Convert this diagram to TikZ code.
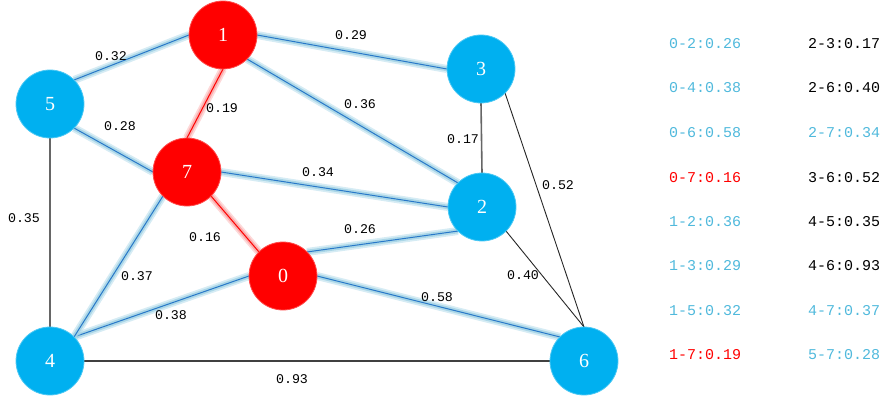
\documentclass[tikz,border=0pt]{standalone}
\usepackage{fontspec}
\setmainfont{Liberation Serif}
\newfontfamily\monofont{Liberation Mono}
\usetikzlibrary{backgrounds}
\definecolor{nodeblue}{RGB}{0,176,240}
\definecolor{nodered}{RGB}{255,0,0}
\definecolor{edgeblue}{RGB}{40,120,200}
\definecolor{glowblue}{RGB}{165,212,230}
\definecolor{glowred}{RGB}{250,170,170}
\definecolor{legblue}{RGB}{80,185,220}
\tikzset{
  vtx/.style={circle, minimum size=68pt, inner sep=0pt, outer sep=0pt, text=white, font=\fontsize{20}{20}\selectfont, draw=#1!70!white, line width=0.8pt, fill=#1},
  bluee/.style={preaction={draw=glowblue, line width=8pt, opacity=0.45}, preaction={draw=glowblue, line width=4.5pt, opacity=0.9}, draw=edgeblue, line width=1pt},
  rede/.style={preaction={draw=glowred, line width=8pt, opacity=0.45}, preaction={draw=glowred, line width=4.5pt, opacity=0.9}, draw=red, line width=1pt},
  plaine/.style={draw=black!85, line width=0.9pt},
  graye/.style={draw=black!60, line width=1.6pt},
  elab/.style={font=\monofont\fontsize{13.3}{13.3}\selectfont, text=black, inner sep=0pt},
  leg/.style={font=\monofont\fontsize{15}{15}\selectfont, anchor=west, inner sep=0pt}
}
\begin{document}
\begin{tikzpicture}[x=1pt,y=-1pt]
\useasboundingbox (0,0) rectangle (893,398);
\node[vtx=nodered]  (n1) at (223,35) {1};
\node[vtx=nodeblue] (n5) at (50,104) {5};
\node[vtx=nodeblue] (n3) at (481,69) {3};
\node[vtx=nodered]  (n7) at (187,172) {7};
\node[vtx=nodeblue] (n2) at (482,207) {2};
\node[vtx=nodered]  (n0) at (283,276) {0};
\node[vtx=nodeblue] (n4) at (50,361) {4};
\node[vtx=nodeblue] (n6) at (584,361) {6};
\begin{pgfonlayer}{background}
\draw[plaine] (n2.south east) -- (n6.north);
\draw[plaine] (n3.south east) -- (n6.north);
\draw[graye] (n3.south) -- (n2.north);
\draw[graye] (n5.south) -- (n4.north);
\draw[draw=black!75, line width=1.2pt] (n4.east) -- (n6.west);
\draw[bluee] (n0.north east) -- (n2.south west);
\draw[bluee] (n0.west) -- (n4.north east);
\draw[bluee] (n0.east) -- (n6.north west);
\draw[bluee] (n1.south east) -- (n2.north west);
\draw[bluee] (n1.east) -- (n3.west);
\draw[bluee] (n1.west) -- (n5.north east);
\draw[bluee] (n7.east) -- (n2.west);
\draw[bluee] (n7.south west) -- (n4.north east);
\draw[bluee] (n5.south east) -- (n7.west);
\draw[rede] (n7.south east) -- (n0.north west);
\draw[rede] (n1.south) -- (n7.north);
\end{pgfonlayer}
\node[elab] (l02) at (360,229) {0.26};
\node[elab] (l04) at (171,315) {0.38};
\node[elab] (l06) at (437,297) {0.58};
\node[elab] (l07) at (205,237) {0.16};
\node[elab] (l12) at (360,104) {0.36};
\node[elab] (l13) at (351,35) {0.29};
\node[elab] (l15) at (111,56) {0.32};
\node[elab] (l17) at (222,108) {0.19};
\node[elab] (l23) at (463,139) {0.17};
\node[elab] (l26) at (523,275) {0.40};
\node[elab] (l27) at (318,172) {0.34};
\node[elab] (l36) at (558,185) {0.52};
\node[elab] (l45) at (24,218) {0.35};
\node[elab] (l46) at (292,379) {0.93};
\node[elab] (l47) at (137,276) {0.37};
\node[elab] (l57) at (120,126) {0.28};
\node[leg, text=legblue] (g1) at (669,44) {0-2:0.26};
\node[leg, text=legblue] (g2) at (669,88) {0-4:0.38};
\node[leg, text=legblue] (g3) at (669,133) {0-6:0.58};
\node[leg, text=red] (g4) at (669,178) {0-7:0.16};
\node[leg, text=legblue] (g5) at (669,222) {1-2:0.36};
\node[leg, text=legblue] (g6) at (669,266) {1-3:0.29};
\node[leg, text=legblue] (g7) at (669,311) {1-5:0.32};
\node[leg, text=red] (g8) at (669,355) {1-7:0.19};
\node[leg, text=black] (h1) at (808,44) {2-3:0.17};
\node[leg, text=black] (h2) at (808,88) {2-6:0.40};
\node[leg, text=legblue] (h3) at (808,133) {2-7:0.34};
\node[leg, text=black] (h4) at (808,178) {3-6:0.52};
\node[leg, text=black] (h5) at (808,222) {4-5:0.35};
\node[leg, text=black] (h6) at (808,266) {4-6:0.93};
\node[leg, text=legblue] (h7) at (808,311) {4-7:0.37};
\node[leg, text=legblue] (h8) at (808,355) {5-7:0.28};
\end{tikzpicture}
\end{document}
